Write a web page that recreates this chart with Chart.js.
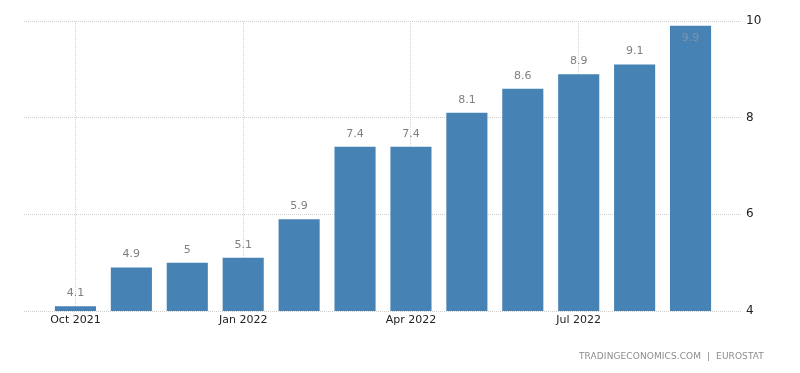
<!DOCTYPE html>
<html>
<head>
<meta charset="utf-8">
<script src="https://cdn.jsdelivr.net/npm/chart.js@4/dist/chart.umd.min.js"></script>
<style>
  html, body { margin: 0; padding: 0; background: #fff; }
  #wrap { position: relative; width: 800px; height: 373px; }
  #source { position: absolute; left: 579px; top: 351px; font: 9px "DejaVu Sans", sans-serif; color: #8c8c8c; letter-spacing: 0.1px; white-space: nowrap; }
</style>
</head>
<body>
<div id="wrap">
  <canvas id="chart" width="800" height="373"></canvas>
  <div id="source">TRADINGECONOMICS.COM &nbsp;|&nbsp; EUROSTAT</div>
</div>
<script>
const months = ["Oct 2021", "Nov 2021", "Dec 2021", "Jan 2022", "Feb 2022", "Mar 2022",
                "Apr 2022", "May 2022", "Jun 2022", "Jul 2022", "Aug 2022", "Sep 2022"];
const values = [4.1, 4.9, 5, 5.1, 5.9, 7.4, 7.4, 8.1, 8.6, 8.9, 9.1, 9.9];
const xTickIdx = [0, 3, 6, 9];
const yTicks = [4, 6, 8, 10];

const points = values.map((v, i) => ({ x: i, y: v }));

const valueLabels = {
    id: "valueLabels",
    afterDatasetsDraw(chart) {
        const ctx = chart.ctx;
        const meta = chart.getDatasetMeta(0);
        ctx.save();
        ctx.font = "11px 'DejaVu Sans', sans-serif";
        ctx.textAlign = "center";
        ctx.textBaseline = "middle";
        meta.data.forEach((bar, i) => {
            let y = bar.y - 13;
            if (y < chart.chartArea.top) {
                y = bar.y + 12;
                ctx.fillStyle = "#7f93a8";
            } else {
                ctx.fillStyle = "#808080";
            }
            ctx.fillText(String(values[i]), bar.x, y);
        });
        ctx.restore();
    }
};

new Chart(document.getElementById("chart"), {
    type: "bar",
    data: {
        datasets: [{
            data: points,
            backgroundColor: "#4682b4",
            borderWidth: 0,
            barPercentage: 0.735,
            categoryPercentage: 1
        }]
    },
    options: {
        responsive: false,
        animation: false,
        layout: { padding: { left: 24, top: 21, right: 0, bottom: 0 } },
        plugins: { legend: { display: false }, tooltip: { enabled: false } },
        scales: {
            x: {
                type: "linear",
                min: -0.92,
                max: 11.92,
                offset: false,
                afterBuildTicks: scale => {
                    scale.ticks = xTickIdx.map(v => ({ value: v }));
                },
                afterFit: scale => { scale.height = 62; },
                ticks: {
                    callback: v => months[v],
                    color: "#222",
                    font: { family: "DejaVu Sans", size: 11 },
                    padding: 3,
                    maxRotation: 0,
                    autoSkip: false
                },
                grid: {
                    offset: false,
                    color: "#d4d4d4",
                    lineWidth: 1,
                    drawTicks: false
                },
                border: { display: false, dash: [1, 1] }
            },
            y: {
                position: "right",
                min: 4,
                max: 10,
                afterBuildTicks: scale => {
                    scale.ticks = yTicks.map(v => ({ value: v }));
                },
                afterFit: scale => { scale.width = 58; },
                ticks: {
                    color: "#222",
                    font: { family: "DejaVu Sans", size: 12 },
                    padding: 4
                },
                grid: {
                    color: "#cfcfcf",
                    lineWidth: 1,
                    drawTicks: false
                },
                border: { display: false, dash: [1, 1] }
            }
        }
    },
    plugins: [valueLabels]
});
</script>
</body>
</html>
